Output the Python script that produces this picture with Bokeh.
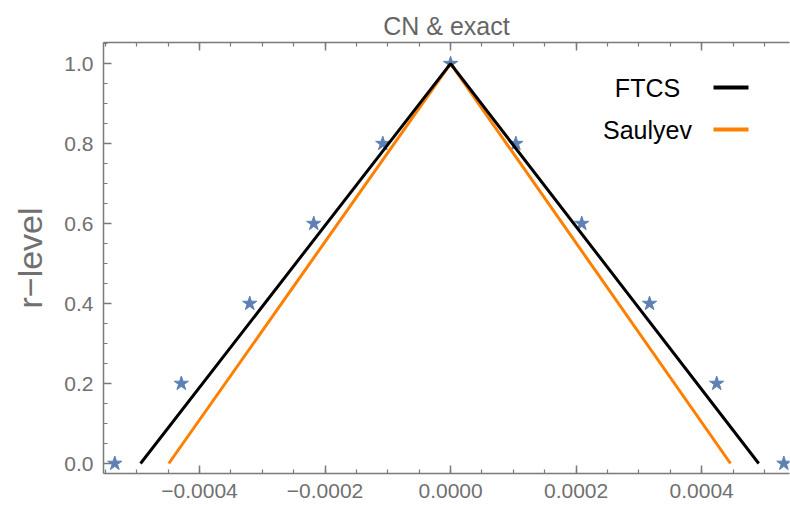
import numpy as np
from bokeh.plotting import figure
from bokeh.models import Range1d, FixedTicker, LinearAxis, Label, BoxAnnotation
from bokeh.embed import file_html
from bokeh.resources import INLINE

# ---- data ----
cn_exact_x = [-0.000535, -0.000429, -0.000320, -0.000218, -0.000108, 0.0,
              0.000104, 0.000209, 0.000317, 0.000424, 0.000531]
cn_exact_r = [0.0, 0.2, 0.4, 0.6, 0.8, 1.0, 0.8, 0.6, 0.4, 0.2, 0.0]
ftcs_x = [-0.000494, 0.0, 0.000491]
ftcs_r = [0.0, 1.0, 0.0]
saulyev_x = [-0.000449, 0.0, 0.000446]
saulyev_r = [0.0, 1.0, 0.0]
x_ticks = [-0.0004, -0.0002, 0.0, 0.0002, 0.0004]
x_tick_labels = ["\u22120.0004", "\u22120.0002", "0.0000", "0.0002", "0.0004"]
y_ticks = [0.0, 0.2, 0.4, 0.6, 0.8, 1.0]
y_tick_labels = ["0.0", "0.2", "0.4", "0.6", "0.8", "1.0"]
series_names = ["FTCS", "Saulyev"]

FONT = "Liberation Sans"
AX = "#7a7a7a"
LBL = "#707070"

p = figure(width=790, height=506, output_backend="svg", toolbar_location=None,
           x_range=Range1d(-0.000553, 0.00054), y_range=Range1d(-0.025, 1.053),
           min_border_left=103, min_border_right=1, min_border_top=42, min_border_bottom=33)
p.xgrid.visible = False
p.ygrid.visible = False
p.outline_line_color = None
p.background_fill_color = "white"
p.border_fill_color = "white"

p.title.text = "CN & exact"
p.title.text_font = FONT
p.title.text_font_size = "25px"
p.title.text_font_style = "normal"
p.title.text_color = "#666666"
p.title.align = "center"
p.title.standoff = 6
p.title.offset = 0

xminor = list(np.round(np.arange(-0.00055, 0.00056, 0.00005), 6))
yminor = list(np.round(np.arange(0.0, 1.051, 0.05), 3))
xt = FixedTicker(ticks=x_ticks, minor_ticks=xminor)
yt = FixedTicker(ticks=y_ticks, minor_ticks=yminor)

def style(ax):
    ax.axis_line_color = AX
    ax.axis_line_width = 1.5
    ax.major_tick_line_color = AX
    ax.minor_tick_line_color = AX
    ax.major_tick_line_width = 1.5
    ax.minor_tick_line_width = 1.2
    ax.major_tick_in = 8
    ax.major_tick_out = 0
    ax.minor_tick_in = 4
    ax.minor_tick_out = 0
    ax.major_label_text_font = FONT
    ax.major_label_text_font_size = "21px"
    ax.major_label_text_color = LBL

xa = p.xaxis[0]
xa.ticker = xt
style(xa)
xa.major_label_overrides = {t: l for t, l in zip(x_ticks, x_tick_labels)}
xa.major_label_standoff = 10

ya = p.yaxis[0]
ya.ticker = yt
style(ya)
ya.major_label_overrides = {t: l for t, l in zip(y_ticks, y_tick_labels)}
ya.major_label_standoff = 10
ya.axis_label = "r\u2212level"
ya.axis_label_text_font = FONT
ya.axis_label_text_font_size = "34px"
ya.axis_label_text_font_style = "normal"
ya.axis_label_text_color = LBL
ya.axis_label_standoff = 12

# top frame edge: ticks only, no labels
top = LinearAxis(ticker=FixedTicker(ticks=x_ticks, minor_ticks=xminor))
style(top)
top.major_label_overrides = {t: "" for t in x_ticks}
top.major_label_standoff = 0
p.add_layout(top, "above")

p.scatter(cn_exact_x, cn_exact_r, marker="star", size=15, color="#5E81B5")
p.line(saulyev_x, saulyev_r, line_color="#FF8000", line_width=3)
p.line(ftcs_x, ftcs_r, line_color="black", line_width=3)

# legend (text left of sample, as in the reference)
colors = ["black", "#FF8000"]
for i, (name, c) in enumerate(zip(series_names, colors)):
    ys = 386 - 42 * i
    p.add_layout(Label(x=544, y=ys, x_units="screen", y_units="screen", text=name,
                       text_align="center", text_baseline="middle", text_font=FONT,
                       text_font_size="25px", text_color="black"))
    p.add_layout(BoxAnnotation(left=610, right=645, bottom=ys - 2, top=ys + 2,
                               left_units="screen", right_units="screen",
                               bottom_units="screen", top_units="screen",
                               fill_color=c, fill_alpha=1, line_color=None))

open("out.html", "w").write(file_html(p, INLINE))
